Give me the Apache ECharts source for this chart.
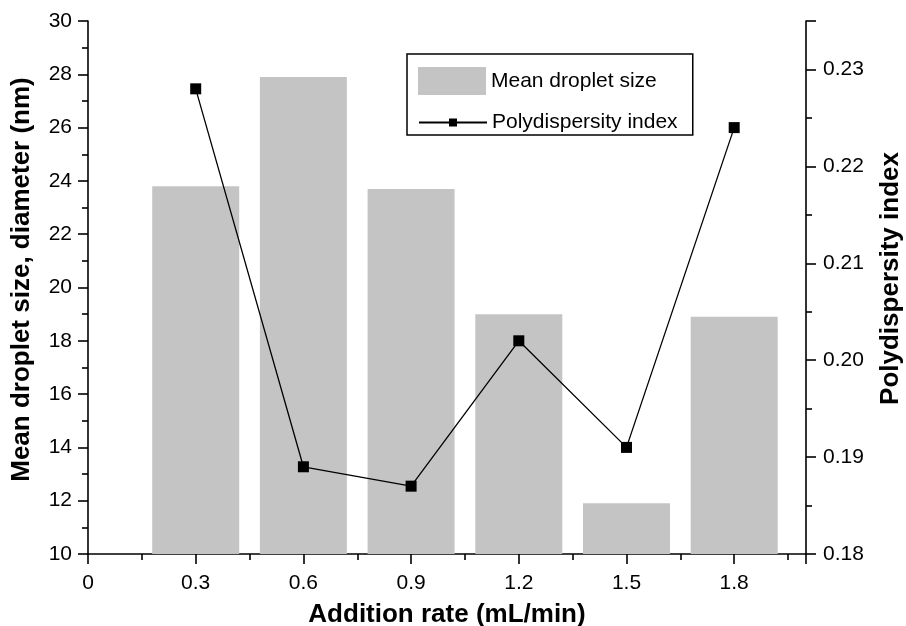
<!DOCTYPE html>
<html>
<head>
<meta charset="utf-8">
<title>Mean droplet size and polydispersity index vs addition rate</title>
<script src="https://cdn.jsdelivr.net/npm/echarts@6/dist/echarts.min.js"></script>
<style>
  html, body { margin: 0; padding: 0; background: #ffffff; }
  #chart { width: 906px; height: 626px; }
</style>
</head>
<body>
<div id="chart"></div>
<script>
// Addition rates (mL/min)
const additionRates = [0.3, 0.6, 0.9, 1.2, 1.5, 1.8];
// Mean droplet size, diameter (nm)
const meanDropletSize = [23.8, 27.9, 23.7, 19.0, 11.9, 18.9];
// Polydispersity index
const polydispersityIndex = [0.228, 0.189, 0.187, 0.202, 0.191, 0.224];

const seriesNames = ['Mean droplet size', 'Polydispersity index'];
const axisNames = {
  x: 'Addition rate (mL/min)',
  left: 'Mean droplet size, diameter (nm)',
  right: 'Polydispersity index'
};

const FONT = "'Liberation Sans', Arial, Helvetica, sans-serif";
const INK = '#000000';

const barData = additionRates.map((x, i) => [x, meanDropletSize[i]]);
const lineData = additionRates.map((x, i) => [x, polydispersityIndex[i]]);

const axisCommon = {
  axisLine: { show: true, onZero: false, lineStyle: { color: INK, width: 1.6 } },
  axisTick: { show: true, inside: false, length: 10, lineStyle: { color: INK, width: 1.6 } },
  minorTick: { show: true, splitNumber: 2, length: 6, lineStyle: { color: INK, width: 1.6 } },
  splitLine: { show: false },
  minorSplitLine: { show: false },
  axisLabel: { color: INK, fontSize: 21, fontFamily: FONT, margin: 16 },
  nameLocation: 'middle',
  nameTextStyle: { color: INK, fontSize: 26, fontWeight: 'bold', fontFamily: FONT }
};

const chart = echarts.init(document.getElementById('chart'), null, { renderer: 'canvas' });

chart.setOption({
  animation: false,
  backgroundColor: '#ffffff',
  textStyle: { fontFamily: FONT },
  // fixed plot rectangle; axis names may sit right at the canvas edge
  grid: { left: 88, right: 100, top: 21, bottom: 72, containLabel: false, outerBoundsMode: 'none' },
  legend: [
    {
      data: [{ name: seriesNames[0], icon: 'rect' }],
      left: 407,
      top: 54,
      orient: 'vertical',
      padding: [13, 36, 40, 11],
      itemWidth: 68,
      itemHeight: 28,
      borderColor: INK,
      borderWidth: 1.5,
      borderRadius: 0,
      selectedMode: false,
      textStyle: { color: INK, fontSize: 21, fontFamily: FONT }
    },
    {
      data: [seriesNames[1]],
      left: 418,
      top: 112,
      orient: 'vertical',
      padding: 0,
      itemWidth: 68,
      itemHeight: 10,
      selectedMode: false,
      textStyle: { color: INK, fontSize: 21, fontFamily: FONT }
    }
  ],
  xAxis: Object.assign({}, axisCommon, {
    type: 'value',
    min: 0,
    max: 2.0,
    interval: 0.3,
    name: axisNames.x,
    nameGap: 48,
    axisLabel: Object.assign({}, axisCommon.axisLabel, {
      margin: 19,
      showMaxLabel: false,
      formatter: v => String(+v.toFixed(1))
    })
  }),
  yAxis: [
    Object.assign({}, axisCommon, {
      type: 'value',
      position: 'left',
      min: 10,
      max: 30,
      interval: 2,
      name: axisNames.left,
      nameRotate: 90,
      nameGap: 53,
      nameTextStyle: Object.assign({}, axisCommon.nameTextStyle, { padding: [0, 0, 0, 16] })
    }),
    Object.assign({}, axisCommon, {
      type: 'value',
      position: 'right',
      min: 0.18,
      max: 0.235,
      interval: 0.01,
      name: axisNames.right,
      nameRotate: 90,
      nameGap: 72,
      nameTextStyle: Object.assign({}, axisCommon.nameTextStyle, { padding: [0, 0, 0, 18] }),
      axisLabel: Object.assign({}, axisCommon.axisLabel, {
        margin: 17,
        showMaxLabel: false,
        formatter: v => v.toFixed(2)
      })
    })
  ],
  series: [
    {
      name: seriesNames[0],
      type: 'bar',
      xAxisIndex: 0,
      yAxisIndex: 0,
      data: barData,
      barWidth: 87,
      itemStyle: { color: '#c4c4c4' },
      z: 2
    },
    {
      name: seriesNames[1],
      type: 'line',
      xAxisIndex: 0,
      yAxisIndex: 1,
      data: lineData,
      symbol: 'rect',
      symbolSize: 11,
      lineStyle: { color: INK, width: 1.3 },
      itemStyle: { color: INK },
      z: 3
    }
  ]
});
</script>
</body>
</html>
